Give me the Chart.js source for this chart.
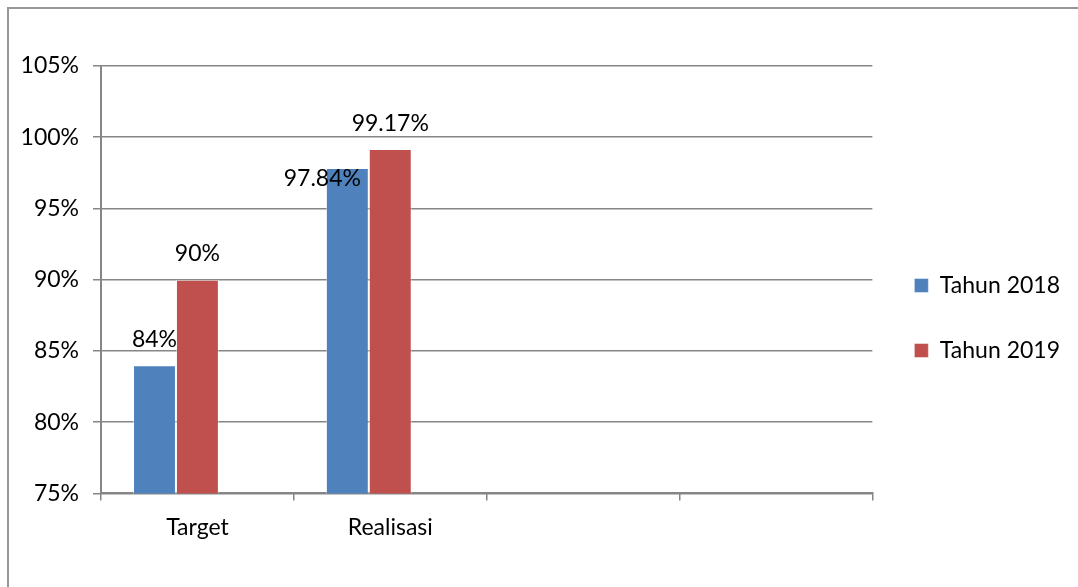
<!DOCTYPE html>
<html>
<head>
<meta charset="utf-8">
<script src="https://cdn.jsdelivr.net/npm/chart.js@4.4.0/dist/chart.umd.min.js"></script>
<style>
  html, body { margin: 0; padding: 0; background: #fff; overflow: hidden; }
  .frame { position: absolute; left: 7px; top: 7px; width: 1100px; height: 620px; border: 2px solid #979797; box-sizing: border-box; }
  .wrap { position: absolute; left: 0; top: 0; width: 1078px; height: 587px; }
</style>
</head>
<body>
<div class="frame"></div>
<div class="wrap"><canvas id="chart"></canvas></div>
<script>
// data
const categories = ['Target', 'Realisasi', '', ''];
const tahun2018 = [84, 97.84, null, null];
const tahun2019 = [90, 99.17, null, null];
const emptySeries = [null, null, null, null]; // third (blank) series in the original
const yTicks = [75, 80, 85, 90, 95, 100, 105];

const labelFont = { family: 'Lato', size: 23 };
const gridColor = '#868686';

// value labels above bars (offsets from bar top)
const valueLabels = {
  id: 'valueLabels',
  afterDatasetsDraw(chart, args, opts) {
    const ctx = chart.ctx;
    ctx.save();
    ctx.font = '23px Lato';
    ctx.fillStyle = '#000';
    ctx.textAlign = 'center';
    ctx.textBaseline = 'middle';
    [0, 1].forEach(di => {
      const meta = chart.getDatasetMeta(di);
      meta.data.forEach((bar, i) => {
        const v = chart.data.datasets[di].data[i];
        if (v == null) return;
        const off = (opts.offsets[di] && opts.offsets[di][i]) || [0, -26];
        ctx.fillText(v + '%', bar.x + off[0], bar.y + off[1]);
      });
    });
    ctx.restore();
  }
};

// push the legend block down a little (it sits below centre in the original)
const legendShift = {
  id: 'legendShift',
  afterLayout(chart, args, opts) {
    if (!chart.legend) return;
    chart.legend.top += opts.dy;
    chart.legend.bottom += opts.dy;
  }
};

new Chart(document.getElementById('chart'), {
  type: 'bar',
  data: {
    labels: categories,
    datasets: [{
      label: 'Tahun 2018',
      data: tahun2018,
      backgroundColor: '#4F81BD',
      borderColor: 'rgba(255,255,255,0.45)',
      borderWidth: 1,
      categoryPercentage: 0.668,
      barPercentage: 1
    },
    {
      label: 'Tahun 2019',
      data: tahun2019,
      backgroundColor: '#C0504D',
      borderColor: 'rgba(255,255,255,0.45)',
      borderWidth: 1,
      categoryPercentage: 0.668,
      barPercentage: 1
    },
    {
      label: '',
      data: emptySeries,
      backgroundColor: '#9BBB59',
      categoryPercentage: 0.668,
      barPercentage: 1
    }]
  },
  plugins: [valueLabels, legendShift],
  options: {
    responsive: true,
    maintainAspectRatio: false,
    animation: false,
    layout: {
      padding: { top: 66, right: 8, bottom: 33, left: 0 }
    },
    plugins: {
      tooltip: { enabled: false },
      legendShift: { dy: 8 },
      valueLabels: {
        offsets: [[[0, -26], [-25, 11]], [[0, -26], [0, -25]]]
      },
      legend: {
        position: 'right',
        labels: {
          filter: item => item.text !== '',
          boxWidth: 14,
          boxHeight: 14,
          color: '#000',
          font: labelFont,
          padding: 42
        }
      }
    },
    scales: {
      x: {
        grid: {
          offset: true,
          drawOnChartArea: false,
          drawTicks: true,
          tickLength: 7,
          color: gridColor,
          lineWidth: 1.5
        },
        border: { color: gridColor, width: 2 },
        ticks: {
          color: '#000',
          font: labelFont,
          padding: 13,
          maxRotation: 0
        }
      },
      y: {
        min: 75,
        max: 105,
        afterBuildTicks: scale => { scale.ticks = yTicks.map(v => ({ value: v })); },
        afterFit: scale => { scale.width = 101; },
        grid: {
          drawTicks: true,
          tickLength: 8,
          color: gridColor,
          lineWidth: 1.5
        },
        border: { color: gridColor, width: 2 },
        ticks: {
          color: '#000',
          font: labelFont,
          padding: 14,
          callback: v => v + '%'
        }
      }
    }
  }
});
</script>
</body>
</html>
